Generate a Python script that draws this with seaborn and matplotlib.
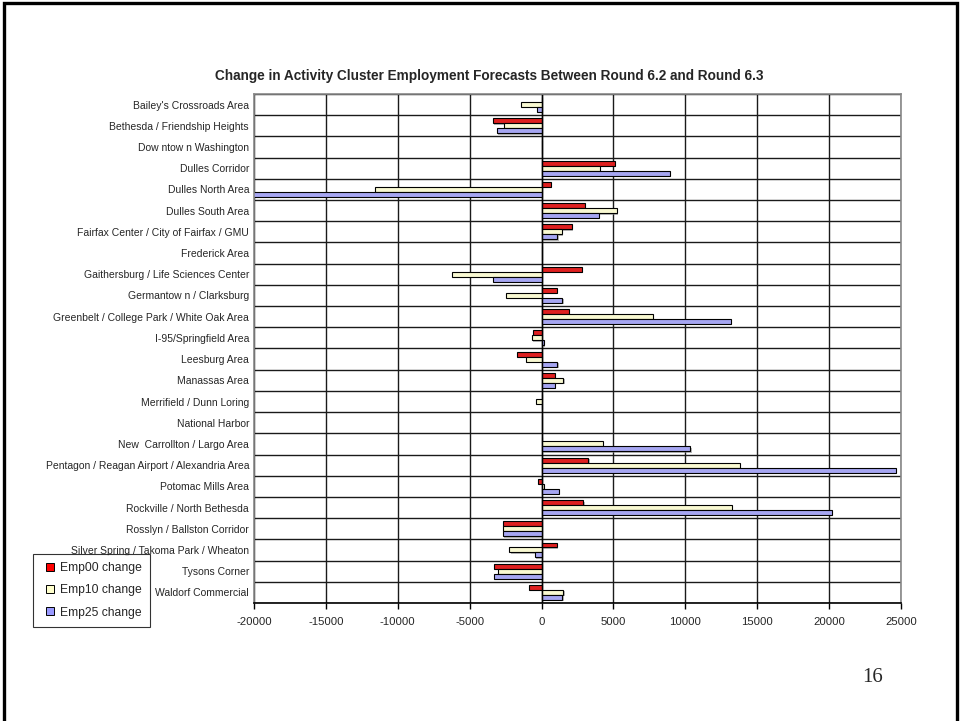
import numpy as np
import pandas as pd
import matplotlib
matplotlib.use("Agg")
import matplotlib.pyplot as plt
import matplotlib.patheffects as pe
from matplotlib.lines import Line2D
from matplotlib.patches import Rectangle
from matplotlib.ticker import MultipleLocator
import seaborn as sns

# Activity clusters, top to bottom
areas = [
    "Bailey's Crossroads Area",
    "Bethesda / Friendship Heights",
    "Dow ntow n Washington",
    "Dulles Corridor",
    "Dulles North Area",
    "Dulles South Area",
    "Fairfax Center / City of Fairfax / GMU",
    "Frederick Area",
    "Gaithersburg / Life Sciences Center",
    "Germantow n / Clarksburg",
    "Greenbelt / College Park / White Oak Area",
    "I-95/Springfield Area",
    "Leesburg Area",
    "Manassas Area",
    "Merrifield / Dunn Loring",
    "National Harbor",
    "New  Carrollton / Largo Area",
    "Pentagon / Reagan Airport / Alexandria Area",
    "Potomac Mills Area",
    "Rockville / North Bethesda",
    "Rosslyn / Ballston Corridor",
    "Silver Spring / Takoma Park / Wheaton",
    "Tysons Corner",
    "Waldorf Commercial",
]

# Employment change between rounds, by forecast year
emp00 = [0, -3400, 0, 5100, 650, 3000, 2100, 0, 2800, 1050, 1900, -600,
         -1700, 900, 0, 0, 0, 3250, -250, 2900, -2700, 1050, -3300, -850]
emp10 = [-1400, -2600, 0, 4050, -11600, 5250, 1400, 0, -6200, -2500, 7750, -700,
         -1050, 1500, -400, 0, 4250, 13800, 150, 13250, -2700, -2250, -3000, 1500]
emp25 = [-350, -3100, 0, 8900, -20300, 4000, 1100, 0, -3400, 1450, 13150, 150,
         1100, 900, 0, 0, 10350, 24650, 1200, 20200, -2700, -450, -3300, 1450]

series_names = ["Emp00 change", "Emp10 change", "Emp25 change"]
series_colors = ["#FF0000", "#FFFFCC", "#9999FF"]

df = pd.DataFrame({
    "area": areas * 3,
    "change": emp00 + emp10 + emp25,
    "series": np.repeat(series_names, len(areas)),
})

sns.set_theme(style="white")
plt.rcParams["font.family"] = ["Liberation Sans", "DejaVu Sans"]
plt.rcParams["axes.unicode_minus"] = False

fig = plt.figure(figsize=(9.63, 7.21), dpi=100)
ax = fig.add_axes([0.2638, 0.1637, 0.6718, 0.7059])

sns.barplot(
    data=df, y="area", x="change", hue="series", orient="h",
    palette=series_colors, hue_order=series_names, order=areas,
    width=0.7, edgecolor="black", linewidth=0.8, legend=False,
    errorbar=None, ax=ax,
)
for bar in ax.patches:
    bar.set_path_effects([
        pe.SimplePatchShadow(offset=(1, -1), shadow_rgbFace="#888888", alpha=0.6),
        pe.Normal(),
    ])

ax.set_xlim(-20000, 25000)
ax.set_ylim(len(areas) - 0.5, -0.5)
ax.xaxis.set_major_locator(MultipleLocator(5000))
ax.set_yticks(np.arange(len(areas)))
ax.set_yticklabels(areas, fontsize=7.5)
ax.set_yticks(np.arange(len(areas) + 1) - 0.5, minor=True)
ax.tick_params(axis="x", labelsize=8.2, length=4, width=1, color="black",
               direction="out", bottom=True, pad=6)
ax.tick_params(axis="y", which="both", length=0, pad=3.6)
ax.set_xlabel("")
ax.set_ylabel("")

ax.grid(True, axis="x", which="major", color="#1a1a1a", linewidth=1.0)
ax.grid(True, axis="y", which="minor", color="#1a1a1a", linewidth=1.0)
ax.grid(False, axis="y", which="major")
ax.set_axisbelow(True)
ax.axvline(0, color="black", linewidth=1.0, zorder=1)

for side in ["top", "right", "left"]:
    ax.spines[side].set_color("#888888")
    ax.spines[side].set_linewidth(1.2)
ax.spines["bottom"].set_color("black")
ax.spines["bottom"].set_linewidth(1.2)

fig.text(0.508, 0.8946,
         "Change in Activity Cluster Employment Forecasts Between Round 6.2 and Round 6.3",
         ha="center", va="center", fontsize=9.8, fontweight="bold")

handles = [Line2D([0], [0], marker="s", linestyle="none", markersize=6,
                  markerfacecolor=c, markeredgecolor="black", markeredgewidth=0.7)
           for c in series_colors]
leg = fig.legend(handles, series_names, loc="lower left",
                 bbox_to_anchor=(0.0343, 0.1304), fontsize=8.7, frameon=True,
                 fancybox=False, edgecolor="black", handlelength=1.4,
                 handletextpad=0.1, labelspacing=0.85, borderpad=0.7,
                 borderaxespad=0)
leg.get_frame().set_linewidth(0.8)

fig.text(0.9065, 0.061, "16", ha="center", va="center", fontsize=15,
         family=["Liberation Serif", "DejaVu Serif"])

# page border
fig.add_artist(Rectangle((0.0045, -0.02), 0.989, 1.016, transform=fig.transFigure,
                         fill=False, edgecolor="black", linewidth=2.4))

fig.savefig("out.png", dpi=100)
